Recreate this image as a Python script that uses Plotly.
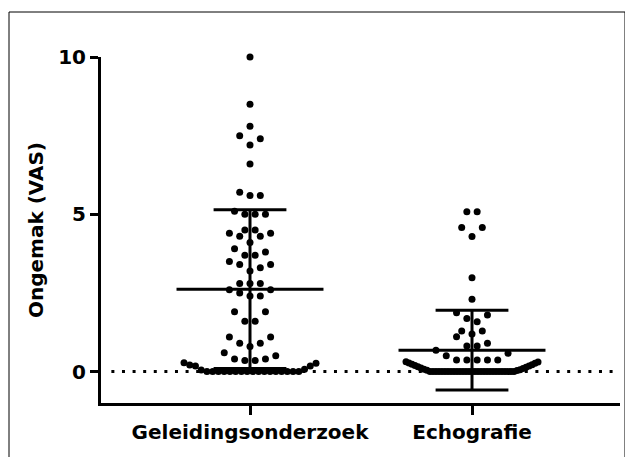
import plotly.graph_objects as go

# ---------------- data ----------------
categories = ["Geleidingsonderzoek", "Echografie"]

geleiding_values = [
    0, 0, 0, 0, 0, 0, 0, 0, 0, 0, 0, 0, 0, 0, 0, 0, 0,
    0.05, 0.07, 0.18, 0.18, 0.21, 0.26, 0.28,
    0.35, 0.35, 0.4, 0.4, 0.5, 0.6,
    0.8, 0.9, 0.9, 1.1, 1.1,
    1.6, 1.6, 1.9, 1.9,
    2.4, 2.4, 2.5, 2.6, 2.6,
    2.8, 2.8, 2.8,
    3.2, 3.3, 3.4, 3.4, 3.5,
    3.7, 3.7, 3.8, 3.9,
    4.1, 4.3, 4.3, 4.4, 4.4,
    4.5, 4.5,
    5.0, 5.0, 5.0, 5.1,
    5.6, 5.6, 5.7,
    6.6,
    7.2, 7.4, 7.5,
    7.8, 8.5, 10.0,
]

echografie_values = [
    0, 0, 0, 0, 0, 0, 0, 0, 0, 0, 0, 0, 0, 0, 0, 0, 0, 0, 0, 0,
    0, 0, 0, 0, 0, 0, 0, 0, 0,
    0.03, 0.04, 0.06, 0.07, 0.1, 0.11, 0.14, 0.15,
    0.18, 0.19, 0.22, 0.23, 0.26, 0.27, 0.3, 0.31,
    0.37, 0.37, 0.37, 0.37, 0.37, 0.5, 0.58, 0.68,
    0.81, 0.81, 0.9, 1.11,
    1.19, 1.29, 1.29,
    1.58, 1.69, 1.8, 1.87,
    2.3, 2.98,
    4.29, 4.58, 4.58,
    5.08, 5.08,
]

means = [2.62, 0.68]
sds = [2.52, 1.27]
y_ticks = [0, 5, 10]

# ---------------- layout geometry / style ----------------
# the page body adds an 8px margin, so the figure is placed 8px further in
OFF = 8
W, H = 633, 457
ML, MT = 101 - OFF, 57 - OFF
PLOT_W, PLOT_H = 519, 346
MR = W - ML - PLOT_W
MB = H - MT - PLOT_H
PX_PER_X = 222.0              # pixels per category step
FIRST_CAT_PX = 149.0          # first category from left of plot area
X_RANGE = [-FIRST_CAT_PX / PX_PER_X, (PLOT_W - FIRST_CAT_PX) / PX_PER_X]
Y_RANGE = [-1.0, 10.0]

ROW_H = 0.33        # data units grouped into one row of the dot plot
STEP_PX = 10.3      # spacing between neighbouring dots in a row
MAX_ROW_PX = 132.0  # widest a row may get (then dots are squeezed)
MEAN_HALF = 0.331
CAP_HALF = 0.164
FONT = dict(family="DejaVu Sans", size=20, color="black", weight="bold")


def swarm(values, center):
    v = sorted(values)
    rows, cur, start = [], [v[0]], v[0]
    for val in v[1:]:
        if val - start > ROW_H + 1e-9:
            rows.append(cur)
            cur, start = [val], val
        else:
            cur.append(val)
    rows.append(cur)
    xs, ys = [], []
    for row in rows:
        n = len(row)
        step = STEP_PX if n < 2 else min(STEP_PX, MAX_ROW_PX / (n - 1))
        for k, val in enumerate(row):
            if n % 2:
                slot = 0 if k == 0 else ((k + 1) // 2) * (1 if k % 2 else -1)
            else:
                slot = (k // 2 + 0.5) * (1 if k % 2 == 0 else -1)
            xs.append(center + slot * step / PX_PER_X)
            ys.append(val)
    return xs, ys


fig = go.Figure()

for i, vals in enumerate([geleiding_values, echografie_values]):
    xs, ys = swarm(vals, i)
    fig.add_trace(go.Scatter(
        x=xs, y=ys, mode="markers",
        marker=dict(color="black", size=7, line=dict(width=0)),
        cliponaxis=False, showlegend=False, hoverinfo="y"))

    m, s = means[i], sds[i]
    lx = [i - MEAN_HALF, i + MEAN_HALF, None,
          i, i, None,
          i - CAP_HALF, i + CAP_HALF, None,
          i - CAP_HALF, i + CAP_HALF]
    ly = [m, m, None,
          m - s, m + s, None,
          m + s, m + s, None,
          m - s, m - s]
    fig.add_trace(go.Scatter(
        x=lx, y=ly, mode="lines",
        line=dict(color="black", width=3),
        cliponaxis=False, showlegend=False, hoverinfo="skip"))

# dotted reference line at 0
fig.add_shape(type="line", xref="paper", yref="y",
              x0=0.02, x1=1.0, y0=0, y1=0, layer="below",
              line=dict(color="black", width=3, dash="3px,7.6px"))


# outer frame of the picture (given in screen pixels)
def px_to_paper_x(px):
    return (px - OFF - ML) / PLOT_W


def px_to_paper_y(py):
    return (MT + PLOT_H - (py - OFF)) / PLOT_H


fig.add_shape(type="rect", xref="paper", yref="paper",
              x0=px_to_paper_x(9), x1=px_to_paper_x(625),
              y0=px_to_paper_y(475), y1=px_to_paper_y(12),
              line=dict(color="black", width=1), fillcolor="rgba(0,0,0,0)")

fig.update_layout(
    width=W, height=H,
    margin=dict(l=ML, r=MR, t=MT, b=MB, pad=0),
    paper_bgcolor="white", plot_bgcolor="white",
    showlegend=False,
    xaxis=dict(
        range=X_RANGE, tickmode="array", tickvals=[0, 1], ticktext=categories,
        showgrid=False, zeroline=False, showline=True, linecolor="black",
        linewidth=3, ticks="outside", ticklen=9, tickwidth=3, tickcolor="black",
        tickfont=FONT, fixedrange=True),
    yaxis=dict(
        range=Y_RANGE, tickmode="array", tickvals=y_ticks,
        ticktext=[str(t) for t in y_ticks],
        showgrid=False, zeroline=False, showline=True, linecolor="black",
        linewidth=3, ticks="outside", ticklen=8, tickwidth=3, tickcolor="black",
        tickfont=FONT, fixedrange=True,
        title=dict(text="Ongemak (VAS)", font=FONT, standoff=10)),
)

fig.write_html("out.html")
